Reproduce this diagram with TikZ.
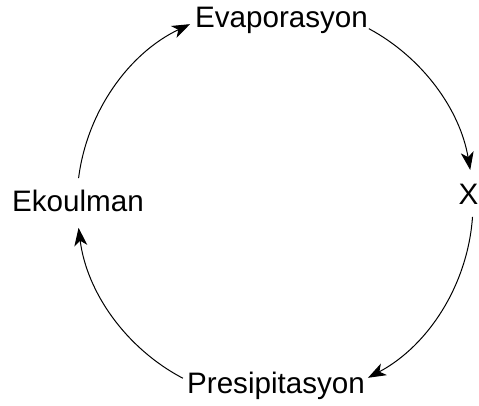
\documentclass[tikz,border=0pt]{standalone}
\usepackage{fontspec}
\setmainfont{Liberation Sans}
\usetikzlibrary{arrows.meta,calc}
\begin{document}
\begin{tikzpicture}[x=1pt,y=1pt,
  lbl/.style={inner sep=0pt,anchor=base,font=\fontsize{29.6}{32}\selectfont},
  cyc/.style={line width=1pt,-{Stealth[length=18pt,width=13pt,inset=5pt]}}]
\useasboundingbox (0,0) rectangle (479,406);
\coordinate (ctr) at (275,203);
\node[lbl] (evap) at (281.5,378) {Evaporasyon};
\node[lbl] (x) at (468.5,201) {X};
\node[lbl] (pres) at (276,12) {Presipitasyon};
\node[lbl] (ekou) at (78,194) {Ekoulman};
\coordinate (a1) at ($(ctr)+(172.8:198)$);
\coordinate (a2) at ($(ctr)+(61.7:198)$);
\coordinate (a3) at ($(ctr)+(-4:198)$);
\coordinate (a4) at ($(ctr)+(242.3:198)$);
\draw[cyc] (a1) arc[start angle=172.8,end angle=115.4,radius=198];
\draw[cyc] (a2) arc[start angle=61.7,end angle=9.6,radius=198];
\draw[cyc] (a3) arc[start angle=-4,end angle=-62,radius=198];
\draw[cyc] (a4) arc[start angle=242.3,end angle=187.2,radius=198];
\end{tikzpicture}
\end{document}
